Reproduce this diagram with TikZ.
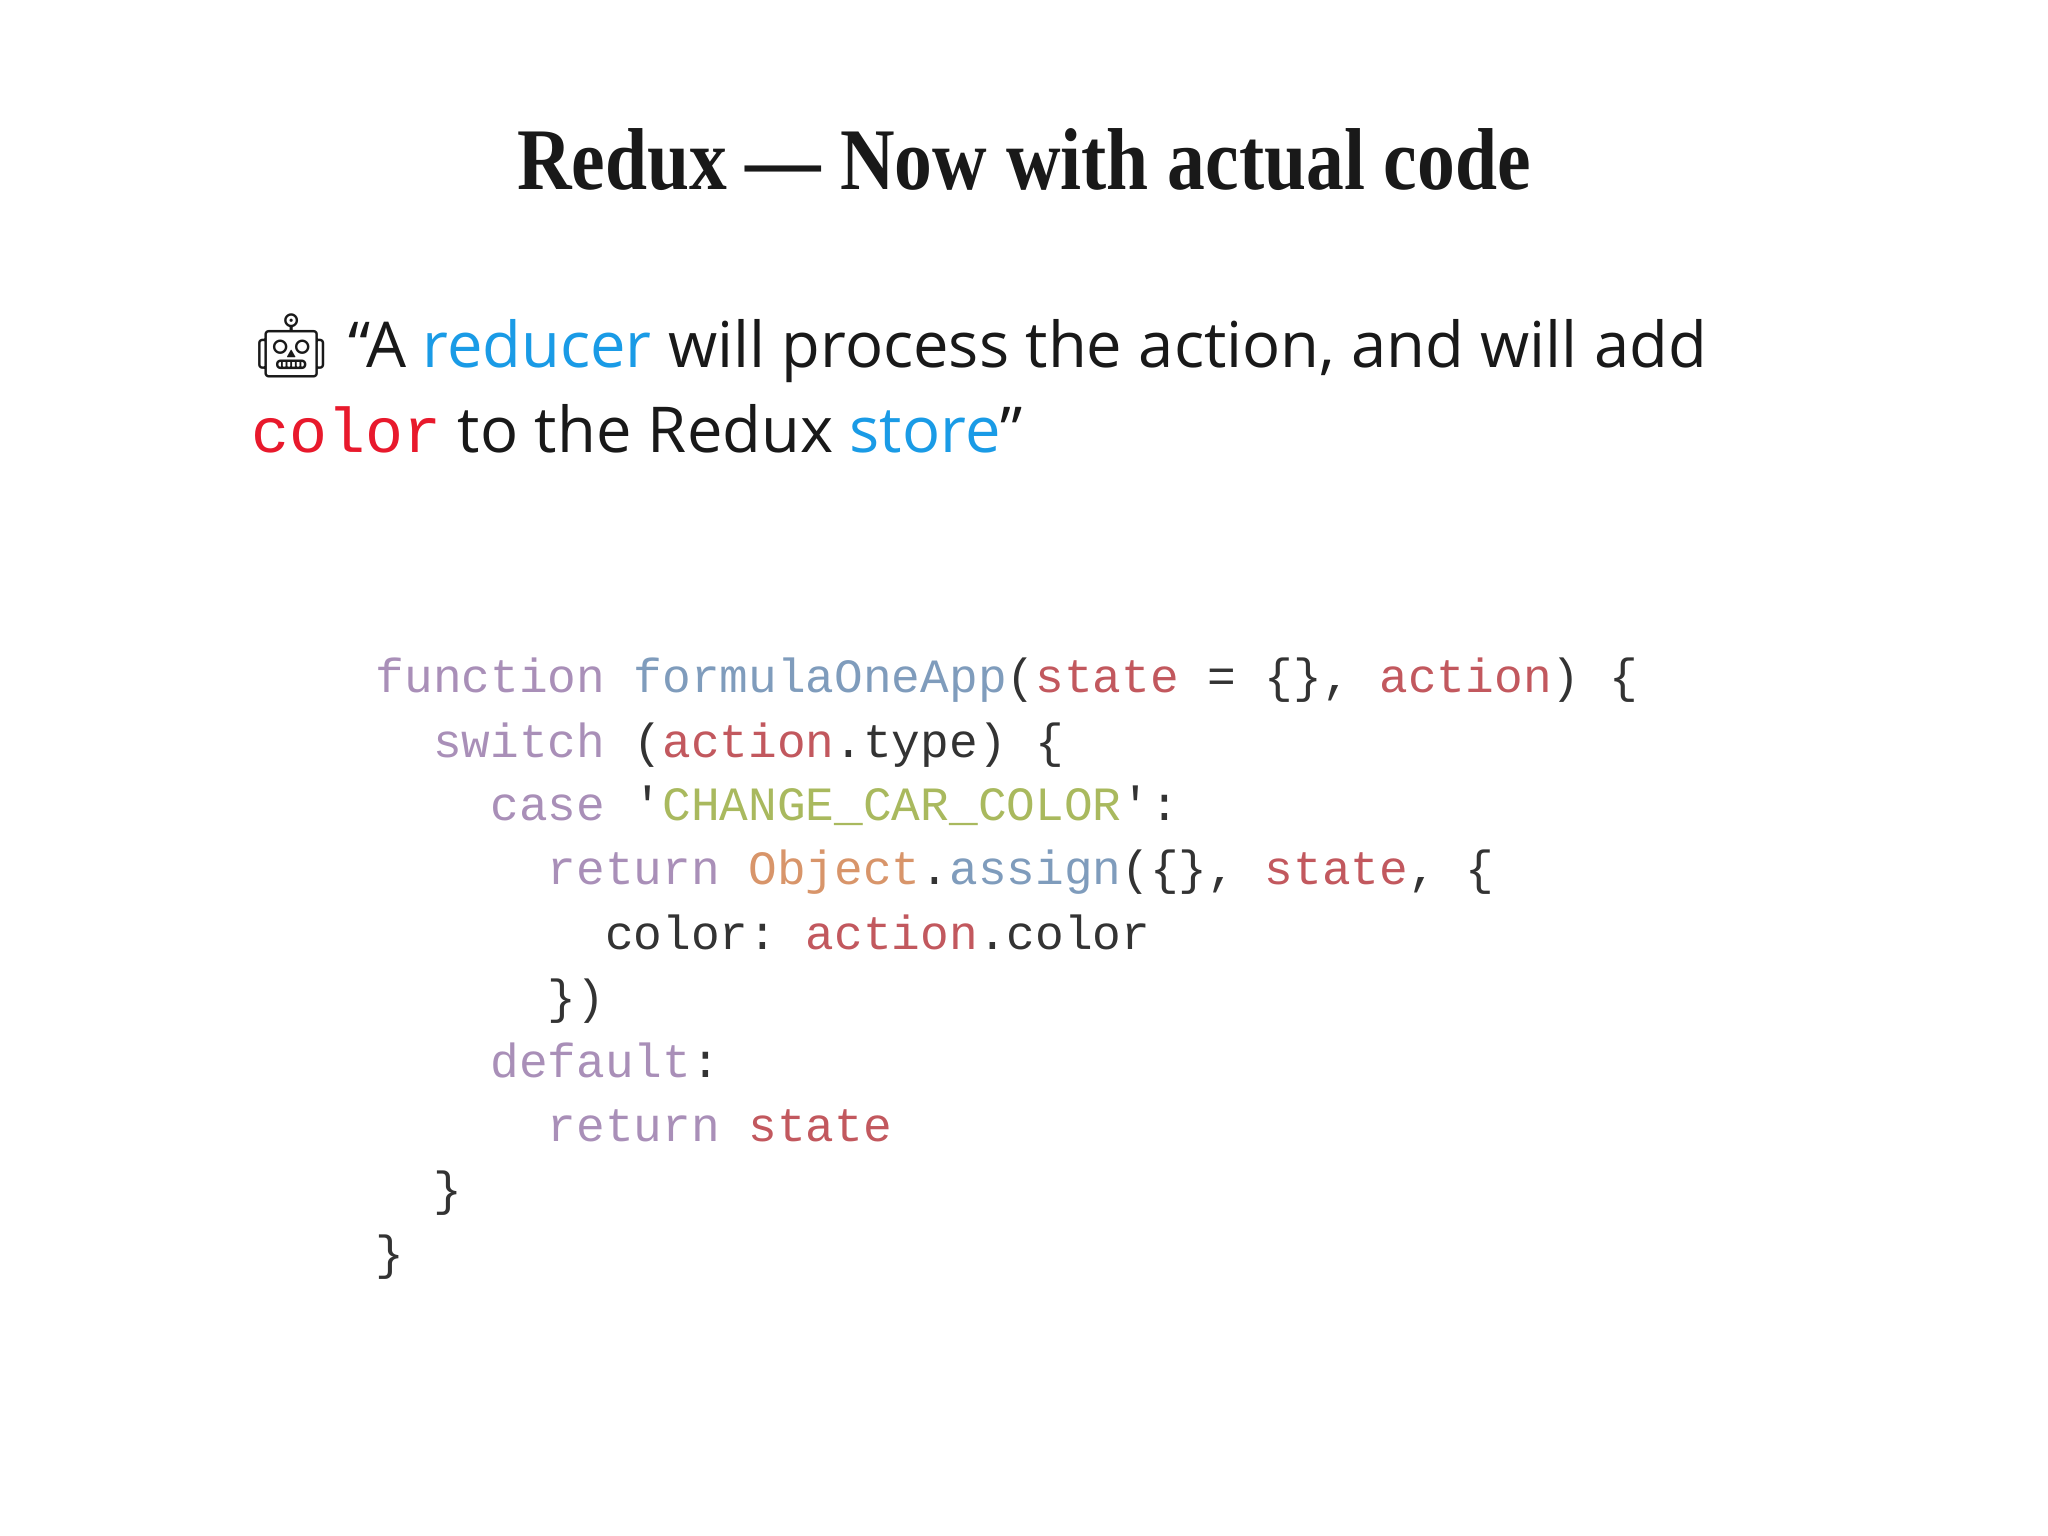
\documentclass[tikz,border=0pt]{standalone}
\usepackage{fontspec}
\setmainfont{Liberation Serif}
\setsansfont{Open Sans}
\setmonofont{Liberation Mono}
\newfontfamily\emojifont{Noto Emoji}
\definecolor{kw}{HTML}{A98FB8}
\definecolor{fn}{HTML}{7F9CBC}
\definecolor{vr}{HTML}{C2585E}
\definecolor{st}{HTML}{A9B95E}
\definecolor{ob}{HTML}{D8956A}
\definecolor{tx}{HTML}{333333}
\definecolor{bl}{HTML}{1A9BE6}
\definecolor{rd}{HTML}{E8192C}
\begin{document}
\begin{tikzpicture}[x=1cm,y=-1cm,
  code/.style={anchor=base west,inner sep=0pt,font=\fontsize{13.6}{16}\ttfamily,text=tx},
  quote/.style={anchor=base west,inner sep=0pt,font=\fontsize{18}{22}\sffamily,text=black!90}]
\useasboundingbox (0,0) rectangle (20.48,15.36);
\node[anchor=base,inner sep=0pt,font=\fontsize{25}{30}\selectfont\bfseries,text=black!90,xscale=0.86] (title) at (10.24,1.90) {Redux — Now with actual code};
\node[quote] (q1) at (2.51,3.68) {{\emojifont 🤖} “A \textcolor{bl}{reducer} will process the action, and will add};
\node[quote] (q2) at (2.51,4.53) {\textcolor{rd}{\ttfamily color} to the Redux \textcolor{bl}{store}”};
\def\lx{3.75}
\node[code] (c1) at (\lx,6.93) {\textcolor{kw}{function} \textcolor{fn}{formulaOneApp}(\textcolor{vr}{state} = \{\}, \textcolor{vr}{action}) \{};
\node[code] (c2) at (\lx,7.57) {\ \ \textcolor{kw}{switch} (\textcolor{vr}{action}.type) \{};
\node[code] (c3) at (\lx,8.21) {\ \ \ \ \textcolor{kw}{case} '\textcolor{st}{CHANGE\_CAR\_COLOR}':};
\node[code] (c4) at (\lx,8.85) {\ \ \ \ \ \ \textcolor{kw}{return} \textcolor{ob}{Object}.\textcolor{fn}{assign}(\{\}, \textcolor{vr}{state}, \{};
\node[code] (c5) at (\lx,9.49) {\ \ \ \ \ \ \ \ color: \textcolor{vr}{action}.color};
\node[code] (c6) at (\lx,10.13) {\ \ \ \ \ \ \})};
\node[code] (c7) at (\lx,10.77) {\ \ \ \ \textcolor{kw}{default}:};
\node[code] (c8) at (\lx,11.41) {\ \ \ \ \ \ \textcolor{kw}{return} \textcolor{vr}{state}};
\node[code] (c9) at (\lx,12.05) {\ \ \}};
\node[code] (c10) at (\lx,12.69) {\}};
\end{tikzpicture}
\end{document}
